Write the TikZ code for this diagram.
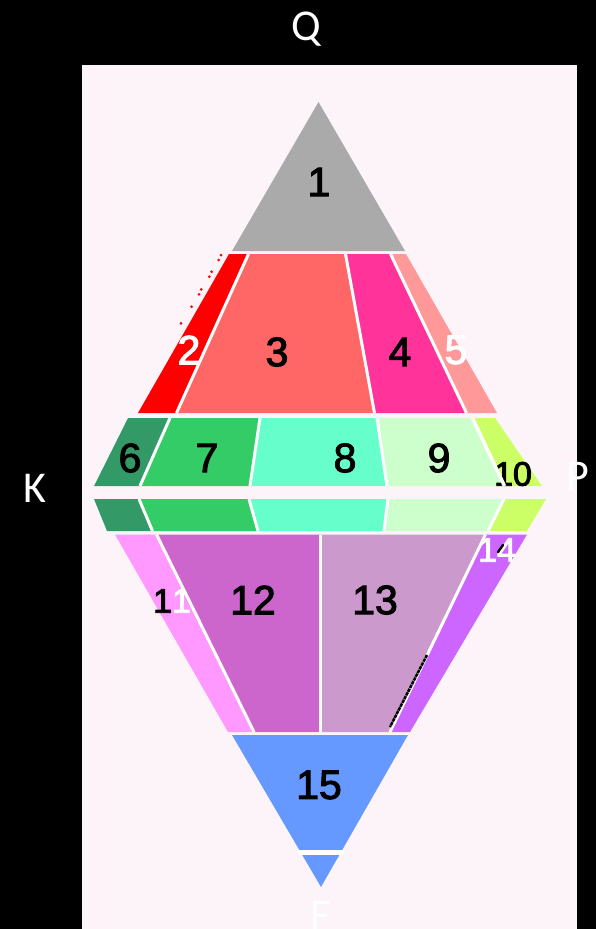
\documentclass[tikz,border=0pt]{standalone}
\usepackage{fontspec}
\setmainfont{Liberation Sans}
\newfontfamily\numfont[FakeBold=2.5]{Liberation Sans}
\newfontfamily\lblfont{Carlito}
\definecolor{bgpink}{HTML}{FDF4FA}
\definecolor{c1}{HTML}{AAAAAA}
\definecolor{c2}{HTML}{FF0000}
\definecolor{c3}{HTML}{FF6666}
\definecolor{c4}{HTML}{FF3399}
\definecolor{c5}{HTML}{FF9999}
\definecolor{c6}{HTML}{339966}
\definecolor{c7}{HTML}{33CC66}
\definecolor{c8}{HTML}{66FFCC}
\definecolor{c9}{HTML}{CCFFCC}
\definecolor{c10}{HTML}{CCFF66}
\definecolor{c11}{HTML}{FF99FF}
\definecolor{c12}{HTML}{CC66CC}
\definecolor{c13}{HTML}{CC99CC}
\definecolor{c14}{HTML}{CC66FF}
\definecolor{c15}{HTML}{6699FF}
\begin{document}
\begin{tikzpicture}[x=1pt,y=-1pt,
  sep/.style={draw=white,line width=3pt},
  num/.style={inner sep=0pt,font=\numfont\fontsize{41}{41}\selectfont},
  snum/.style={inner sep=0pt,font=\numfont\fontsize{34}{34}\selectfont},
  vlab/.style={inner sep=0pt,text=white,font=\lblfont\fontsize{44}{44}\selectfont,anchor=base}]
\fill[black] (0,0) rectangle (596,929);
\useasboundingbox (0,0) rectangle (596,929);
\fill[bgpink] (82,65) rectangle (577,929);
% row A
\fill[c1] (318.5,102) -- (405,251) -- (232,251) -- cycle;
% row B
\fill[c2] (229,254) -- (248.5,254) -- (176.5,413) -- (138,413) -- cycle;
\fill[c3] (248.5,254) -- (345.5,254) -- (374.5,413) -- (176.5,413) -- cycle;
\fill[c4] (345.5,254) -- (390.5,254) -- (466.5,413) -- (374.5,413) -- cycle;
\fill[c5] (390.5,254) -- (406,254) -- (497,413) -- (466.5,413) -- cycle;
% red dots
\foreach \p in {(221,255),(218.7,260),(211.7,271.7),(209.3,276.7),(201.3,289.3),(199,294.3),(191.7,306.7),(181,323.3)}
  \fill[c2] \p circle (1.5);
% row C
\fill[c6] (128,418) -- (170,418) -- (140,486) -- (94,486) -- cycle;
\fill[c7] (170,418) -- (260,418) -- (250,486) -- (140,486) -- cycle;
\fill[c8] (260,418) -- (377,418) -- (387,486) -- (250,486) -- cycle;
\fill[c9] (377,418) -- (472.5,418) -- (504.5,486) -- (387,486) -- cycle;
\fill[c10] (472.5,418) -- (495,418) -- (542,486) -- (504.5,486) -- cycle;
% row D
\fill[c6] (94,499) -- (139,499) -- (152.5,531) -- (107,531) -- cycle;
\fill[c7] (139,499) -- (249,499) -- (258,531) -- (152.5,531) -- cycle;
\fill[c8] (249,499) -- (388,499) -- (384,531) -- (258,531) -- cycle;
\fill[c9] (388,499) -- (504,499) -- (488,531) -- (384,531) -- cycle;
\fill[c10] (504,499) -- (546,499) -- (527,531) -- (488,531) -- cycle;
% row E
\fill[c11] (115,534.5) -- (156.5,534.5) -- (254,732) -- (228,732) -- cycle;
\fill[c12] (156.5,534.5) -- (320,534.5) -- (320,732) -- (254,732) -- cycle;
\fill[c13] (320,534.5) -- (485.5,534.5) -- (390,732) -- (320,732) -- cycle;
\fill[c14] (485.5,534.5) -- (527,534.5) -- (410,732) -- (390,732) -- cycle;
% row F
\fill[c15] (232,735) -- (408,735) -- (321,887) -- cycle;
% labels
\node[num] (n1) at (319,182) {1};
\node[num,text=white] (n2) at (189,350) {2};
\node[num] (n3) at (277,352) {3};
\node[num] (n4) at (400,352) {4};
\node[num,text=white] (n5) at (456,350) {5};
\node[num] (n6) at (130,458) {6};
\node[num] (n7) at (207,458) {7};
\node[num] (n8) at (345,458) {8};
\node[num] (n9) at (439,458) {9};
\node[snum] (n10) at (513,474) {10};
\node[snum] (n11) at (172,601) {1\textcolor{white}{1}};
\node[num] (n12) at (253,600) {12};
\node[num] (n13) at (375,600) {13};
\node[snum,text=white] (n14) at (497,550) {14};
\node[num] (n15) at (319,785) {15};
% separators
\draw[sep] (248.5,254) -- (176.5,413);
\draw[sep] (345.5,254) -- (374.5,413);
\draw[sep] (390.5,254) -- (466.5,413);
\draw[sep] (170,418) -- (140,486);
\draw[sep] (260,418) -- (250,486);
\draw[sep] (377,418) -- (387,486);
\draw[sep,line width=3.5pt] (472.5,418) -- (504.5,486);
\draw[sep] (139,499) -- (152.5,531);
\draw[sep] (249,499) -- (258,531);
\draw[sep] (388,499) -- (384,531);
\draw[sep] (504,499) -- (488,531);
\draw[sep] (156.5,534.5) -- (254,732);
\draw[sep] (320,534.5) -- (320,732);
\draw[sep] (485.5,534.5) -- (390,732);
\draw[draw=white,line width=5pt] (298,852.5) -- (344,852.5);
% black marks
\draw[black,line width=2.5pt,dash pattern=on 3.5pt off 0.7pt] (427,655) -- (390,727);
\draw[black,line width=2.4pt,line cap=round] (498,552) -- (503,545);
% vertex labels
\node[vlab] (Q) at (306,40) {Q};
\node[vlab] (K) at (35,502) {K};
\node[vlab] (P) at (578,490) {P};
\node[vlab] (F) at (321,929) {F};
\end{tikzpicture}
\end{document}
